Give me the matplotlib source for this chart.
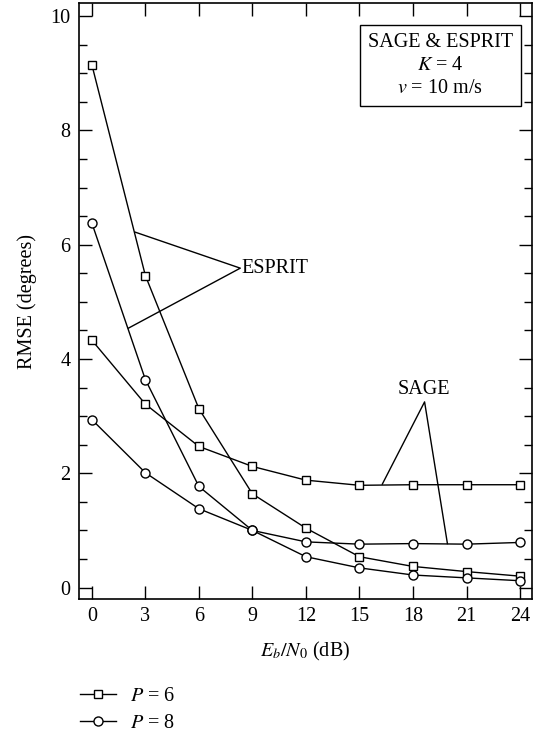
import matplotlib
matplotlib.use("Agg")
import matplotlib.pyplot as plt
from matplotlib.ticker import MultipleLocator

plt.rcParams['font.family'] = ['Liberation Serif', 'DejaVu Serif']
plt.rcParams['mathtext.fontset'] = 'stix'
plt.rcParams['font.size'] = 14

ebn0 = [0, 3, 6, 9, 12, 15, 18, 21, 24]
esprit_p6 = [9.15, 5.46, 3.13, 1.64, 1.04, 0.54, 0.37, 0.28, 0.20]
esprit_p8 = [6.38, 3.64, 1.77, 1.00, 0.54, 0.345, 0.22, 0.17, 0.12]
sage_p6 = [4.33, 3.21, 2.47, 2.12, 1.88, 1.79, 1.80, 1.80, 1.80]
sage_p8 = [2.94, 2.01, 1.38, 1.00, 0.80, 0.76, 0.77, 0.76, 0.79]
xticks = [0, 3, 6, 9, 12, 15, 18, 21, 24]
yticks = [0, 2, 4, 6, 8, 10]

fig = plt.figure(figsize=(5.36, 7.34), dpi=100)
ax = fig.add_axes([0.1474, 0.1839, 0.9925 - 0.1474, 0.9959 - 0.1839])

mk = dict(color='black', lw=1.0, markerfacecolor='white', markeredgecolor='black',
          markeredgewidth=1.0)
ax.plot(ebn0, esprit_p6, marker='s', markersize=6, **mk)
ax.plot(ebn0, esprit_p8, marker='o', markersize=6.5, **mk)
ax.plot(ebn0, sage_p6, marker='s', markersize=6, **mk)
ax.plot(ebn0, sage_p8, marker='o', markersize=6.5, **mk)

ax.set_xlim(-0.72, 24.67)
ax.set_ylim(-0.2, 10.23)
ax.set_xticks(xticks)
ax.set_yticks(yticks)
ax.yaxis.set_minor_locator(MultipleLocator(0.5))
ax.tick_params(axis='both', which='major', direction='in', length=9.4, width=1.0,
               top=True, right=True, labelsize=14.5, pad=6)
ax.tick_params(axis='y', which='minor', direction='in', length=5.8, width=1.0,
               left=True, right=True)
for s in ax.spines.values():
    s.set_linewidth(1.2)

ax.set_xlabel('$E_b/N_0$ (dB)', fontsize=14.5, labelpad=10)
ax.set_ylabel('RMSE (degrees)', fontsize=14.5, labelpad=10)

# ESPRIT annotation
ax.plot([2.43, 8.32, 2.05], [6.22, 5.59, 4.54], color='black', lw=1.0)
ax.text(8.4, 5.59, 'ESPRIT', ha='left', va='center', fontsize=14.5)

# SAGE annotation
ax.plot([16.28, 18.65, 19.93], [1.81, 3.25, 0.77], color='black', lw=1.0)
ax.text(18.6, 3.3, 'SAGE', ha='center', va='bottom', fontsize=14.5)

# info box
ax.text(19.53, 9.14, 'SAGE & ESPRIT\n$K$ = 4\n$v$ = 10 m/s', ha='center', va='center',
        multialignment='center', fontsize=14.5, linespacing=1.3,
        bbox=dict(boxstyle='square,pad=0.4', facecolor='white', edgecolor='black', lw=1.0))

# legend
h1, = ax.plot([], [], marker='s', markersize=6, **mk)
h2, = ax.plot([], [], marker='o', markersize=6.5, **mk)
fig.legend([h1, h2], ['$P$ = 6', '$P$ = 8'], loc='upper left',
           bbox_to_anchor=(0.135, 0.075), frameon=False, fontsize=14.5,
           handlelength=1.75, handletextpad=0.7, labelspacing=0.4, borderaxespad=0)

fig.savefig('out.png', dpi=100)
